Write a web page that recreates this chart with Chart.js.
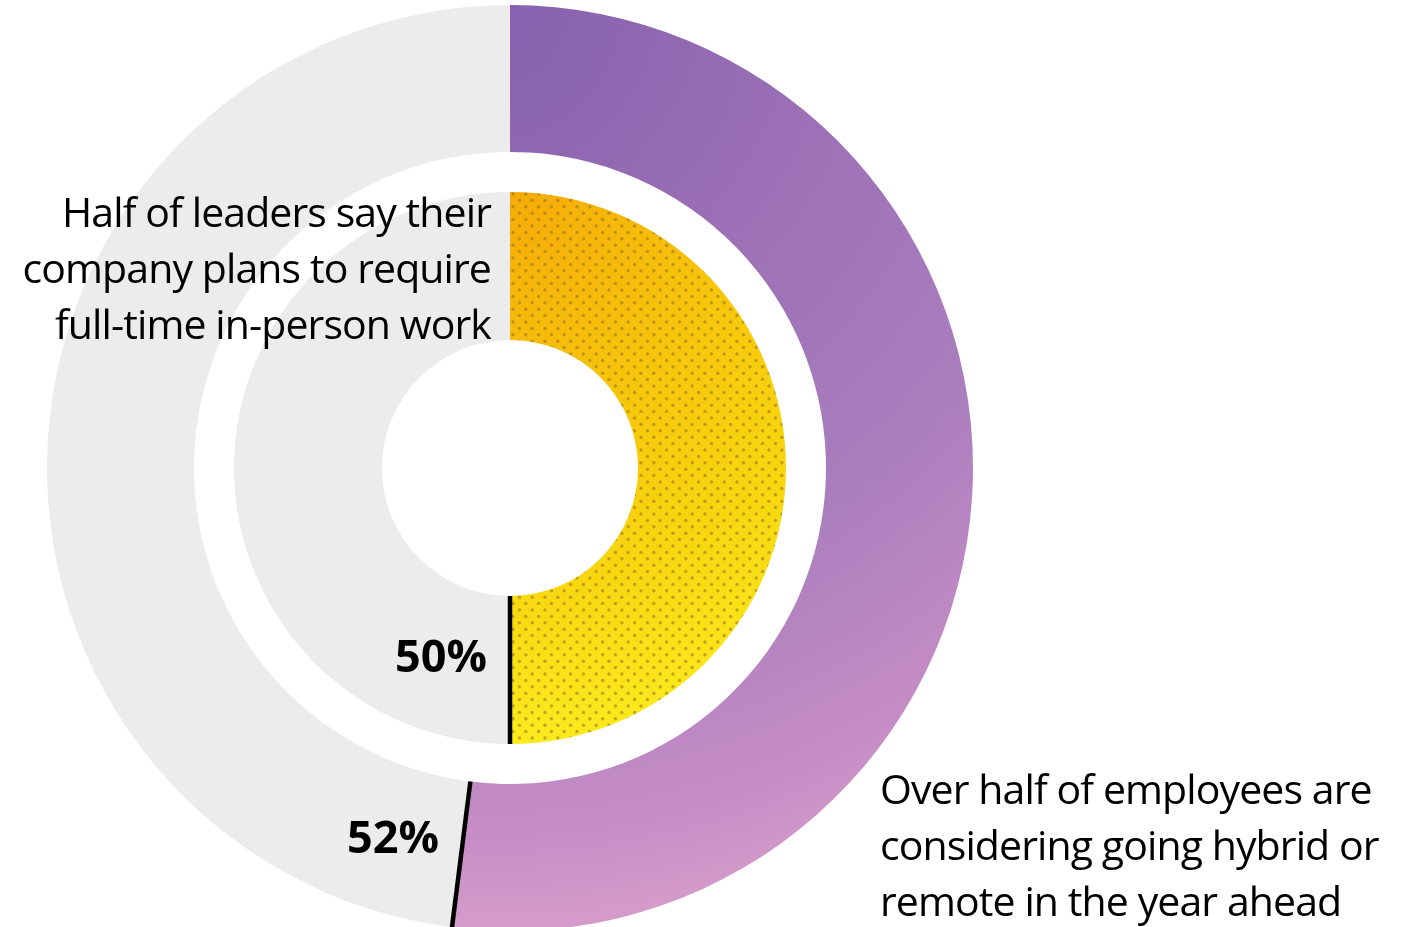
<!DOCTYPE html>
<html><head><meta charset="utf-8">
<script src="https://cdn.jsdelivr.net/npm/chart.js@4"></script>
<style>
html,body{margin:0;padding:0;background:#fff;}
#wrap{position:relative;width:1425px;height:927px;overflow:hidden;}
#c{position:absolute;left:0;top:0;}
.lbl{position:absolute;font-family:"Open Sans";color:#000;white-space:nowrap;font-size:41px;line-height:56px;letter-spacing:-0.9px;}
.lbl div{white-space:nowrap;}
.pct{position:absolute;font-family:"Open Sans";font-weight:700;color:#000;white-space:nowrap;font-size:45px;line-height:56px;text-align:right;}
</style></head><body>
<div id="wrap"><canvas id="c" width="1425" height="940"></canvas></div>
<script>
// ---- data ----
const ringNames = ['Employees', 'Leaders'];
const employeeValues = [52, 48];   // considering hybrid/remote, rest
const leaderValues = [50, 50];     // require full-time in-person, rest
const employeeText = ['Over half of employees are', 'considering going hybrid or', 'remote in the year ahead'];
const leaderText = ['Half of leaders say their', 'company plans to require', 'full-time in-person work'];

const restColor = '#ececec';

function purpleFill(ctx) {
  const ch = ctx.chart, a = ch.chartArea;
  if (!a) return '#a77bbb';
  const cx = (a.left + a.right) / 2, r = Math.min(a.right - a.left, a.bottom - a.top) / 2;
  const cy = (a.top + a.bottom) / 2;
  const g = ch.ctx.createRadialGradient(cx - 30, cy - r - 5, 0, cx - 30, cy - r - 5, r * 2.0);
  g.addColorStop(0, '#8560ad');
  g.addColorStop(0.35, '#9a6fb5');
  g.addColorStop(0.66, '#aa7ebd');
  g.addColorStop(0.9, '#c68dc6');
  g.addColorStop(1, '#d49bca');
  return g;
}
function yellowFill(ctx) {
  const ch = ctx.chart, a = ch.chartArea;
  if (!a) return '#f8d20e';
  const cx = (a.left + a.right) / 2, cy = (a.top + a.bottom) / 2;
  const r = 276;
  const g = ch.ctx.createRadialGradient(cx, cy - r, 0, cx, cy - r, r * 2.0);
  g.addColorStop(0, '#f5ab08');
  g.addColorStop(0.45, '#f7c80c');
  g.addColorStop(0.7, '#f8d60f');
  g.addColorStop(1, '#fbea1e');
  return g;
}

const dotsPlugin = {
  id: 'dots',
  afterDatasetsDraw(chart) {
    const ctx = chart.ctx;
    // dotted texture on the highlighted inner arc
    const meta = chart.getDatasetMeta(2);
    const arc = meta.data[0];
    const p = arc.getProps(['x', 'y', 'startAngle', 'endAngle', 'innerRadius', 'outerRadius']);
    ctx.save();
    ctx.beginPath();
    ctx.arc(p.x, p.y, p.outerRadius, p.startAngle, p.endAngle);
    ctx.arc(p.x, p.y, p.innerRadius, p.endAngle, p.startAngle, true);
    ctx.closePath();
    ctx.clip();
    ctx.fillStyle = 'rgba(150,115,30,0.55)';
    const sx = 12.8, sy = 6.4;
    let row = 0;
    for (let y = p.y - p.outerRadius + 2; y <= p.y + p.outerRadius; y += sy, row++) {
      const off = (row % 2) ? sx / 2 : 0;
      for (let x = p.x + 3 + off; x <= p.x + p.outerRadius + 5; x += sx) {
        ctx.beginPath();
        ctx.arc(x, y, 1.75, 0, Math.PI * 2);
        ctx.fill();
      }
    }
    ctx.restore();
    // black separators at the end of each highlighted arc
    [0, 2].forEach(i => {
      const a = chart.getDatasetMeta(i).data[0].getProps(['x', 'y', 'endAngle', 'innerRadius', 'outerRadius']);
      const cos = Math.cos(a.endAngle), sin = Math.sin(a.endAngle);
      ctx.save();
      ctx.strokeStyle = '#000';
      ctx.lineWidth = 4.5;
      ctx.beginPath();
      ctx.moveTo(a.x + cos * a.innerRadius, a.y + sin * a.innerRadius);
      ctx.lineTo(a.x + cos * a.outerRadius, a.y + sin * a.outerRadius);
      ctx.stroke();
      ctx.restore();
    });
  }
};

const chart = new Chart(document.getElementById('c'), {
  type: 'doughnut',
  data: {
    labels: ['Yes', 'Rest'],
    datasets: [
      { label: ringNames[0], data: employeeValues, backgroundColor: (c) => c.dataIndex === 0 ? purpleFill(c) : restColor, borderWidth: 0, weight: 147 },
      { label: 'gap', data: [1], backgroundColor: 'rgba(0,0,0,0)', borderWidth: 0, weight: 40 },
      { label: ringNames[1], data: leaderValues, backgroundColor: (c) => c.dataIndex === 0 ? yellowFill(c) : restColor, borderWidth: 0, weight: 148 }
    ]
  },
  options: {
    responsive: false,
    animation: false,
    events: [],
    cutout: 128,
    hoverOffset: 0,
    layout: { padding: { left: 47, right: 452, top: 5, bottom: 9 } },
    plugins: { legend: { display: false }, tooltip: { enabled: false } }
  },
  plugins: [dotsPlugin]
});

// ---- text labels ----
const wrap = document.getElementById('wrap');
function addLines(lines, style) {
  const d = document.createElement('div');
  d.className = 'lbl';
  Object.assign(d.style, style);
  d.innerHTML = lines.map(s => '<div>' + s + '</div>').join('');
  wrap.appendChild(d);
}
addLines(leaderText, { right: (1425 - 491) + 'px', top: '183px', textAlign: 'right' });
addLines(employeeText, { left: '880px', top: '760px', textAlign: 'left' });

function addPct(v, rightX, top) {
  const d = document.createElement('div');
  d.className = 'pct';
  d.textContent = v + '%';
  d.style.right = (1425 - rightX) + 'px';
  d.style.top = top + 'px';
  wrap.appendChild(d);
}
addPct(leaderValues[0], 487, 627);
addPct(employeeValues[0], 439, 808);
</script>
</body></html>
